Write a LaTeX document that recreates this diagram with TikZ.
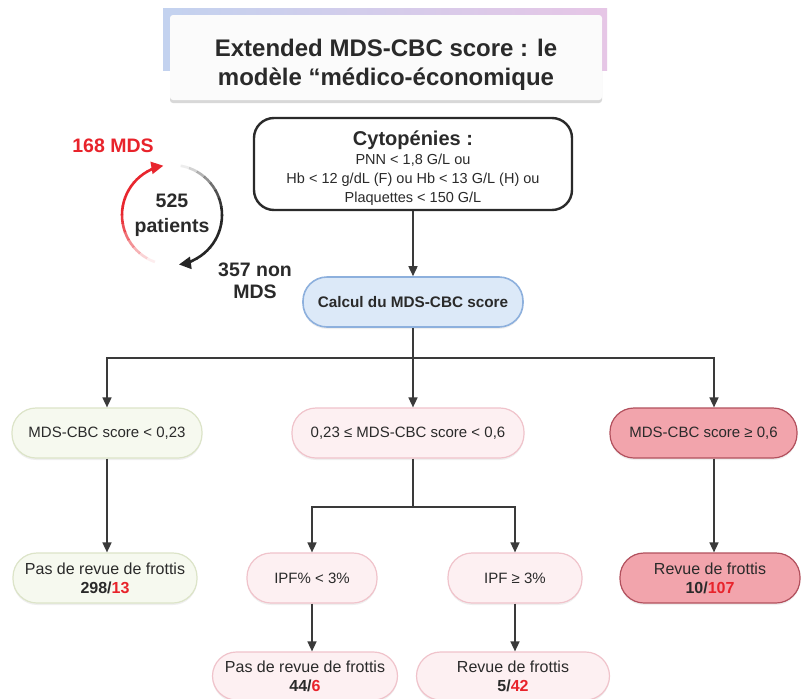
\documentclass[tikz,border=0pt]{standalone}
\usepackage{fontspec}
\setmainfont{Liberation Sans}
\usetikzlibrary{arrows.meta,shadows,calc}
\definecolor{txt}{HTML}{2A2A2A}
\definecolor{arrc}{HTML}{3A3A3A}
\definecolor{numred}{HTML}{E8232B}
\definecolor{barL}{HTML}{C3D2EF}
\definecolor{barR}{HTML}{E6C6E6}
\definecolor{calcfill}{HTML}{DCE9F8}
\definecolor{calcdraw}{HTML}{8DB0DD}
\definecolor{greenfill}{HTML}{F6F9EF}
\definecolor{greendraw}{HTML}{DCE4C8}
\definecolor{pinkfill}{HTML}{FDF0F2}
\definecolor{pinkdraw}{HTML}{F0C3CB}
\definecolor{redfill}{HTML}{F2A4AC}
\definecolor{reddraw}{HTML}{B2505D}
\definecolor{circred}{HTML}{E8262E}
\tikzset{
  pill/.style={rounded corners=24pt, minimum height=50pt, inner sep=2pt, align=center,
    line width=1.2pt, text=txt, font=\fontsize{15}{19}\selectfont,
    drop shadow={opacity=0.12, shadow xshift=0pt, shadow yshift=-2pt}},
  greenbox/.style={pill, fill=greenfill, draw=greendraw},
  pinkbox/.style={pill, fill=pinkfill, draw=pinkdraw},
  redbox/.style={pill, fill=redfill, draw=reddraw},
  arr/.style={draw=arrc, line width=1.6pt, -{Triangle[length=10pt,width=9pt]}},
  plainline/.style={draw=arrc, line width=1.6pt},
  bignum/.style={font=\bfseries\fontsize{19.5}{25}\selectfont, align=center}
}
\begin{document}
\begin{tikzpicture}[x=1pt,y=-1pt]
\useasboundingbox (0,0) rectangle (801,699);
\fill[white] (0,0) rectangle (801,699);

% title
\shade[left color=barL, right color=barR] (163,8) rectangle (607,70);
\node[minimum width=432pt, minimum height=85pt, fill=gray!3, rounded corners=3pt,
  drop shadow={opacity=0.3, shadow xshift=0pt, shadow yshift=-3pt}] (title) at (386,57.5) {};
\node[font=\bfseries\fontsize{24}{29}\selectfont, align=center, text=txt] (titletext) at (386,65)
  {Extended MDS-CBC score : le\\modèle “médico-économique};

% cytopenies
\node[draw=txt, line width=2.4pt, rounded corners=20pt, fill=white, minimum width=318pt,
  minimum height=92pt, align=center, text=txt, inner sep=0pt,
  font=\fontsize{14.5}{19}\selectfont] (cyto) at (413,164)
  {\rule{0pt}{23pt}{\bfseries\fontsize{20}{22}\selectfont Cytopénies :}\\PNN < 1,8 G/L ou\\Hb < 12 g/dL (F) ou Hb < 13 G/L (H) ou\\Plaquettes < 150 G/L};

% calcul
\node[pill, fill=calcfill, draw=calcdraw, line width=1.6pt, minimum width=220pt,
  font=\bfseries\fontsize{15.3}{19}\selectfont] (calc) at (413,302) {Calcul du MDS-CBC score};

% row 1
\node[greenbox, minimum width=190pt] (L1) at (107,433) {MDS-CBC score < 0,23};
\node[pinkbox, minimum width=232pt] (M1) at (408,433) {0,23 ≤ MDS-CBC score < 0,6};
\node[redbox, minimum width=187pt] (R1) at (703.5,433) {MDS-CBC score ≥ 0,6};

% row 2
\node[greenbox, minimum width=184pt, font=\fontsize{16}{19}\selectfont] (L2) at (105,578)
  {Pas de revue de frottis\\\textbf{298/\textcolor{numred}{13}}};
\node[pinkbox, minimum width=130pt] (I1) at (312,578) {IPF\% < 3\%};
\node[pinkbox, minimum width=134pt] (I2) at (515,578) {IPF ≥ 3\%};
\node[redbox, minimum width=180pt, font=\fontsize{16}{19}\selectfont] (R2) at (710,578)
  {Revue de frottis\\\textbf{10/\textcolor{numred}{107}}};

% row 3
\node[pinkbox, minimum width=185pt, minimum height=48pt, font=\fontsize{16}{19}\selectfont] (B1) at (305,676)
  {Pas de revue de frottis\\\textbf{44/\textcolor{numred}{6}}};
\node[pinkbox, minimum width=193pt, minimum height=48pt, font=\fontsize{16}{19}\selectfont] (B2) at (513,676)
  {Revue de frottis\\\textbf{5/\textcolor{numred}{42}}};

% connectors
\coordinate (br) at (413,358);
\coordinate (rx) at (714,358);
\coordinate (mb) at (413,507);
\draw[arr] (cyto.south) -- (calc.north);
\draw[arr] (calc.south) -- (calc.south |- M1.north);
\draw[arr] (br) -| (L1.north);
\draw[arr] (br) -- (rx) -- (rx |- R1.north);
\draw[arr] (L1.south) -- (L1.south |- L2.north);
\draw[arr] (rx |- R1.south) -- (rx |- R2.north);
\draw[plainline] (mb |- M1.south) -- (mb);
\draw[arr] (mb) -| (I1.north);
\draw[arr] (mb) -| (I2.north);
\draw[arr] (I1.south) -- (I1.south |- B1.north);
\draw[arr] (I2.south) -- (I2.south |- B2.north);

% patient cycle
\coordinate (c) at (172,215);
\foreach \a/\o in {110/0.08,120/0.2,130/0.35,140/0.5,150/0.65,160/0.8,170/0.92,180/1,190/1,200/1,210/1,220/1,230/1}{
  \draw[circred, line width=2.6pt, draw opacity=\o] ([shift={(\a:50)}]c) arc[start angle=\a, end angle=\a+10.5, radius=50];
}
\draw[circred, line width=2.6pt, -{Triangle[length=12pt,width=12pt]}] ([shift={(240:50)}]c) arc[start angle=240, end angle=260, radius=50];
\foreach \a/\o in {-80/0.08,-70/0.2,-60/0.35,-50/0.5,-40/0.65,-30/0.8,-20/0.92,-10/1,0/1,10/1,20/1,30/1,40/1,50/1}{
  \draw[black!85, line width=2.6pt, draw opacity=\o] ([shift={(\a:50)}]c) arc[start angle=\a, end angle=\a+10.5, radius=50];
}
\draw[black!85, line width=2.6pt, -{Triangle[length=12pt,width=12pt]}] ([shift={(60:50)}]c) arc[start angle=60, end angle=82, radius=50];

\node[bignum, text=txt] (pat) at (172,215) {525\\patients};
\node[bignum, text=numred] (mds) at (113,146) {168 MDS};
\node[bignum, text=txt, font=\bfseries\fontsize{19.5}{22}\selectfont] (nonmds) at (255,281) {357 non\\MDS};
\end{tikzpicture}
\end{document}
